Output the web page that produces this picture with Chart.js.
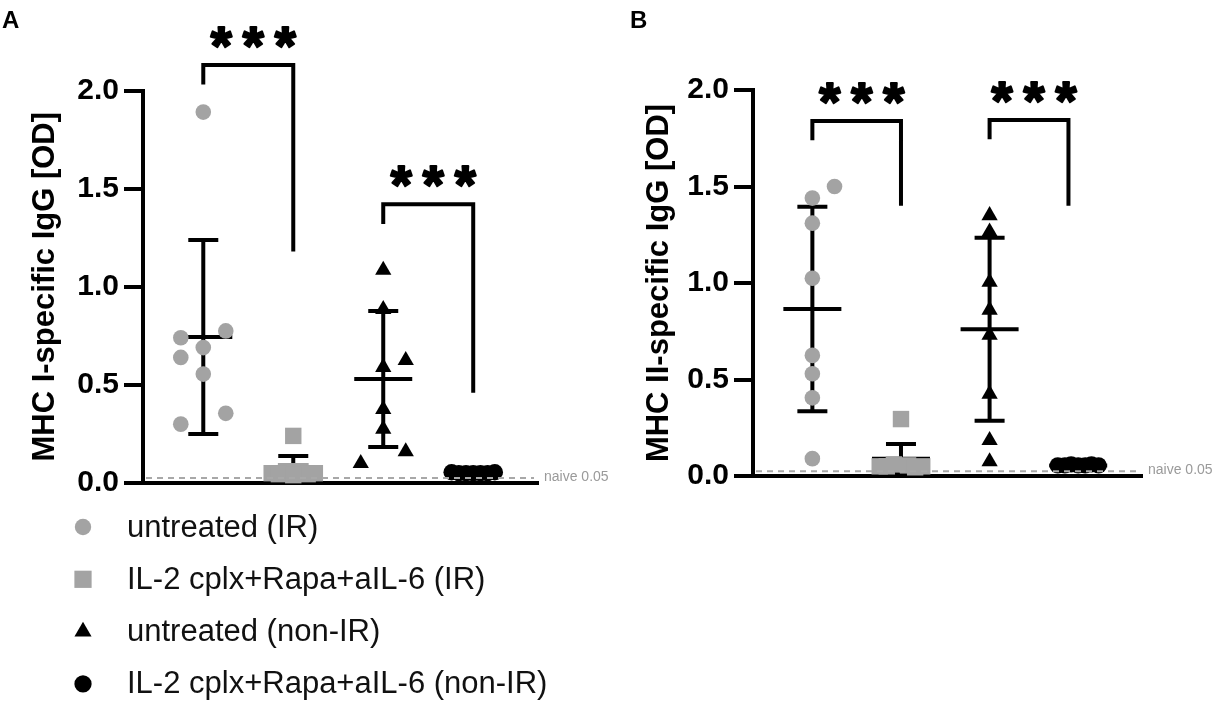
<!DOCTYPE html>
<html><head><meta charset="utf-8">
<script src="https://cdn.jsdelivr.net/npm/chart.js@4/dist/chart.umd.min.js"></script>
<style>
html,body{margin:0;padding:0;background:#fff;}
#wrap{position:relative;width:1212px;height:702px;overflow:hidden;background:#fff;}
.pane{position:absolute;top:0;height:702px;}
</style></head><body>
<div id="wrap">
  <div class="pane" style="left:0;width:612px"><canvas id="cA"></canvas></div>
  <div class="pane" style="left:610px;width:602px"><canvas id="cB"></canvas></div>
</div>
<script>
// ---------------- data ----------------
const groupLabels = ['untreated (IR)', 'IL-2 cplx+Rapa+aIL-6 (IR)', 'untreated (non-IR)', 'IL-2 cplx+Rapa+aIL-6 (non-IR)'];
const groupPos = [1, 2, 3, 4];
const yTickValues = [0, 0.5, 1.0, 1.5, 2.0];

// Panel A: MHC I-specific IgG [OD]
const A_untreatedIR      = [1.89, 0.74, 0.775, 0.69, 0.64, 0.555, 0.355, 0.30];
const A_untreatedIR_jit  = [0, -0.25, 0.25, 0, -0.25, 0, 0.25, -0.25];
const A_treatedIR        = [0.24, 0.06, 0.06, 0.05, 0.05, 0.045, 0.045, 0.04];
const A_treatedIR_jit    = [0, -0.08, 0.08, -0.24, 0.24, -0.16, 0.16, 0];
const A_untreatedNon     = [1.085, 0.885, 0.625, 0.59, 0.375, 0.275, 0.16, 0.10];
const A_untreatedNon_jit = [0, 0, 0.25, 0, 0, 0, 0.25, -0.25];
const A_treatedNon       = [0.055, 0.05, 0.05, 0.05, 0.05, 0.05, 0.055];
const A_treatedNon_jit   = [-0.24, -0.16, -0.08, 0, 0.08, 0.16, 0.24];
const A_mean = [0.744, 0.07, 0.53, 0.05];
const A_sd   = [0.494, 0.068, 0.347, 0.005];
// brackets: [xLeft, xRight, yLeftEnd, yTop, yRightEnd]
const A_brackets = [[1, 2, 2.03, 2.13, 1.18], [3, 4, 1.32, 1.42, 0.46]];
const A_sig = ['***', '***'];

// Panel B: MHC II-specific IgG [OD]
const B_untreatedIR      = [1.50, 1.44, 1.31, 1.025, 0.625, 0.53, 0.405, 0.09];
const B_untreatedIR_jit  = [0.25, 0, 0, 0, 0, 0, 0, 0];
const B_treatedIR        = [0.295, 0.06, 0.055, 0.05, 0.05, 0.05, 0.045];
const B_treatedIR_jit    = [0, -0.08, 0.08, -0.24, 0.24, -0.16, 0.16];
const B_untreatedNon     = [1.35, 1.265, 1.005, 0.86, 0.73, 0.425, 0.185, 0.075];
const B_untreatedNon_jit = [0, 0, 0, 0, 0, 0, 0, 0];
const B_treatedNon       = [0.055, 0.055, 0.06, 0.055, 0.055, 0.06, 0.055];
const B_treatedNon_jit   = [-0.23, -0.15, -0.08, 0, 0.08, 0.15, 0.23];
const B_mean = [0.865, 0.09, 0.76, 0.055];
const B_sd   = [0.53, 0.076, 0.474, 0.005];
const B_brackets = [[1, 2, 1.74, 1.84, 1.40], [3, 3.89, 1.745, 1.845, 1.40]];
const B_sig = ['***', '***'];

const naiveLevel = 0.025;
const naiveLabel = 'naive 0.05';

// ---------------- styles ----------------
const FONT = "'Liberation Sans', Arial, Helvetica, sans-serif";
const GRAY = '#a3a3a3';
const BLACK = '#000000';
const markerStyles = [
  { pointStyle: 'circle',   color: GRAY,  radius: 7.8 },
  { pointStyle: 'rect',     color: GRAY,  radius: 11.6 },
  { pointStyle: 'triangle', color: BLACK, radius: 9.4 },
  { pointStyle: 'circle',   color: BLACK, radius: 8.2 }
];

function drawMarker(ctx, style, r, x, y, color) {
  ctx.save();
  ctx.fillStyle = color;
  ctx.beginPath();
  if (style === 'circle') {
    ctx.arc(x, y, r, 0, Math.PI * 2);
  } else if (style === 'rect') {
    const s = r * Math.SQRT1_2;
    ctx.rect(x - s, y - s, 2 * s, 2 * s);
  } else if (style === 'triangle') {
    ctx.moveTo(x, y - r);
    ctx.lineTo(x + Math.sin(2 * Math.PI / 3) * r, y + 0.5 * r);
    ctx.lineTo(x - Math.sin(2 * Math.PI / 3) * r, y + 0.5 * r);
    ctx.closePath();
  }
  ctx.fill();
  ctx.restore();
}

function pts(vals, jit, g) {
  return vals.map((v, i) => ({ x: groupPos[g] + jit[i], y: v }));
}

const panelPlugin = {
  id: 'panelDecor',
  beforeDatasetsDraw(chart, args, o) {
    const ctx = chart.ctx, xs = chart.scales.x, ys = chart.scales.y;
    ctx.save();
    ctx.strokeStyle = BLACK; ctx.lineWidth = 4; ctx.lineCap = 'butt';
    o.mean.forEach((m, i) => {
      const cx = xs.getPixelForValue(groupPos[i]);
      const yM = ys.getPixelForValue(m);
      const yT = ys.getPixelForValue(m + o.sd[i]);
      const yB = ys.getPixelForValue(Math.max(0, m - o.sd[i]));
      ctx.beginPath();
      ctx.moveTo(cx, yT); ctx.lineTo(cx, yB);
      ctx.moveTo(cx - 15, yT); ctx.lineTo(cx + 15, yT);
      ctx.moveTo(cx - 15, yB); ctx.lineTo(cx + 15, yB);
      ctx.moveTo(cx - 29, yM); ctx.lineTo(cx + 29, yM);
      ctx.stroke();
    });
    ctx.restore();
  },
  afterDatasetsDraw(chart, args, o) {
    const ctx = chart.ctx, ys = chart.scales.y, ca = chart.chartArea;
    const y = ys.getPixelForValue(naiveLevel);
    ctx.save();
    ctx.strokeStyle = '#a8a8a8'; ctx.lineWidth = 2; ctx.setLineDash([6, 5]);
    ctx.beginPath(); ctx.moveTo(ca.left + 3, y); ctx.lineTo(ca.right - 4, y); ctx.stroke();
    ctx.setLineDash([]);
    ctx.fillStyle = '#9a9a9a'; ctx.font = '14px ' + FONT;
    ctx.textBaseline = 'middle'; ctx.textAlign = 'left';
    ctx.fillText(naiveLabel, ca.right + 6, y - 1);
    ctx.restore();
  },
  afterDraw(chart, args, o) {
    const ctx = chart.ctx, xs = chart.scales.x, ys = chart.scales.y;
    ctx.save();
    // significance brackets
    ctx.strokeStyle = BLACK; ctx.lineWidth = 4; ctx.lineJoin = 'miter'; ctx.lineCap = 'butt';
    o.brackets.forEach((b, i) => {
      const x1 = xs.getPixelForValue(b[0]), x2 = xs.getPixelForValue(b[1]);
      const yL = ys.getPixelForValue(b[2]), yTop = ys.getPixelForValue(b[3]), yR = ys.getPixelForValue(b[4]);
      ctx.beginPath();
      ctx.moveTo(x1, yL); ctx.lineTo(x1, yTop); ctx.lineTo(x2, yTop); ctx.lineTo(x2, yR);
      ctx.stroke();
      const label = o.sig[i];
      const cx = (x1 + x2) / 2 + 5;
      ctx.fillStyle = BLACK; ctx.strokeStyle = BLACK; ctx.lineWidth = 2.2; ctx.lineJoin = 'round';
      ctx.font = 'bold 54px ' + FONT;
      ctx.textAlign = 'center'; ctx.textBaseline = 'alphabetic';
      const n = label.length;
      for (let k = 0; k < n; k++) {
        const tx = cx + (k - (n - 1) / 2) * 32, ty = yTop - 32 + 31;
        ctx.fillText(label[k], tx, ty);
        ctx.strokeText(label[k], tx, ty);
      }
      ctx.lineWidth = 4; ctx.lineJoin = 'miter';
    });
    // panel letter
    ctx.fillStyle = BLACK; ctx.font = 'bold 24px ' + FONT;
    ctx.textAlign = 'left'; ctx.textBaseline = 'alphabetic';
    ctx.fillText(o.letter, o.letterX, 28);
    // legend
    if (o.legend) {
      ctx.font = '31px ' + FONT; ctx.textBaseline = 'middle';
      chart.data.datasets.forEach((ds, i) => {
        const ly = o.legendTop + i * o.legendGap;
        const ms = markerStyles[i];
        drawMarker(ctx, ms.pointStyle, ms.radius * 1.05, 83, ly, ms.color);
        ctx.fillStyle = '#111';
        ctx.fillText(ds.label, 127, ly + 1);
      });
    }
    ctx.restore();
  }
};

function makeChart(id, sets, yTitle, opts) {
  const datasets = sets.map((d, i) => ({
    label: groupLabels[i],
    data: d,
    pointStyle: markerStyles[i].pointStyle,
    pointRadius: markerStyles[i].radius,
    pointHoverRadius: markerStyles[i].radius,
    backgroundColor: markerStyles[i].color,
    borderColor: markerStyles[i].color,
    borderWidth: 0,
    clip: false
  }));
  return new Chart(document.getElementById(id), {
    type: 'scatter',
    data: { datasets },
    plugins: [panelPlugin],
    options: {
      responsive: true,
      maintainAspectRatio: false,
      animation: false,
      events: [],
      layout: { padding: opts.padding },
      plugins: {
        legend: { display: false },
        tooltip: { enabled: false },
        panelDecor: opts.decor
      },
      scales: {
        x: {
          type: 'linear', min: 0.33, max: 4.72,
          grid: { display: false },
          ticks: { display: false },
          border: { display: true, width: 4, color: BLACK },
          afterFit: s => { s.height = 0; }
        },
        y: {
          type: 'linear', min: 0, max: 2,
          afterBuildTicks: s => { s.ticks = yTickValues.map(v => ({ value: v })); },
          ticks: {
            callback: v => Number(v).toFixed(1),
            color: BLACK, padding: 5,
            font: { family: FONT, size: 30, weight: 'bold' }
          },
          grid: { display: true, drawOnChartArea: false, drawTicks: true, tickLength: 19, lineWidth: 4, color: BLACK },
          border: { display: true, width: 4, color: BLACK },
          title: {
            display: true, text: yTitle, color: BLACK,
            font: { family: FONT, size: 31, weight: 'bold' },
            padding: { top: opts.titlePad, bottom: 0 }
          },
          afterFit: s => { s.width = 143; }
        }
      }
    }
  });
}

makeChart('cA', [
  pts(A_untreatedIR, A_untreatedIR_jit, 0),
  pts(A_treatedIR, A_treatedIR_jit, 1),
  pts(A_untreatedNon, A_untreatedNon_jit, 2),
  pts(A_treatedNon, A_treatedNon_jit, 3)
], 'MHC I-specific IgG [OD]', {
  padding: { left: 0, top: 90.5, right: 74, bottom: 219 },
  titlePad: 27,
  decor: { mean: A_mean, sd: A_sd, brackets: A_brackets, sig: A_sig, letter: 'A', letterX: 2,
           legend: true, legendTop: 527, legendGap: 52.3 }
});

makeChart('cB', [
  pts(B_untreatedIR, B_untreatedIR_jit, 0),
  pts(B_treatedIR, B_treatedIR_jit, 1),
  pts(B_untreatedNon, B_untreatedNon_jit, 2),
  pts(B_treatedNon, B_treatedNon_jit, 3)
], 'MHC II-specific IgG [OD]', {
  padding: { left: 0, top: 90, right: 70, bottom: 226 },
  titlePad: 31,
  decor: { mean: B_mean, sd: B_sd, brackets: B_brackets, sig: B_sig, letter: 'B', letterX: 20,
           legend: false }
});
</script>
</body></html>
